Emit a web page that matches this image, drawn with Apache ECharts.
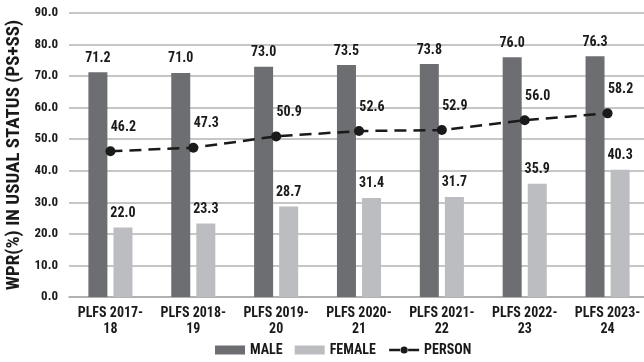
<!DOCTYPE html>
<html><head><meta charset="utf-8">
<script src="https://cdn.jsdelivr.net/npm/echarts@6/dist/echarts.min.js"></script>
<style>html,body{margin:0;padding:0;background:#fff}#c{width:644px;height:362px}</style>
</head><body><div id="c"></div>
<script>
const categories = ['PLFS 2017-\n18','PLFS 2018-\n19','PLFS 2019-\n20','PLFS 2020-\n21','PLFS 2021-\n22','PLFS 2022-\n23','PLFS 2023-\n24'];
const male = [71.2, 71.0, 73.0, 73.5, 73.8, 76.0, 76.3];
const female = [22.0, 23.3, 28.7, 31.4, 31.7, 35.9, 40.3];
const person = [46.2, 47.3, 50.9, 52.6, 52.9, 56.0, 58.2];
const FONT = "'Roboto Condensed','DejaVu Sans Condensed',sans-serif";
const lbl = {show:true, position:'top', distance:7, fontFamily:FONT, fontWeight:'bold', fontSize:14, color:'#1a1a1a', formatter: p => p.value.toFixed(1)};
const chart = echarts.init(document.getElementById('c'));
chart.setOption({
  animation:false,
  grid:{left:69, top:13, width:580, height:284, outerBoundsMode:'none'},
  legend:{bottom:0, left:210, itemWidth:30, itemHeight:9, itemGap:12,
    textStyle:{fontFamily:FONT, fontWeight:'bold', fontSize:14, color:'#1a1a1a'},
    data:[{name:'MALE', icon:'rect'},{name:'FEMALE', icon:'rect'},
      {name:'PERSON', lineStyle:{type:[11,8], width:2.5, color:'#1a1a1a'}}]},
  xAxis:{type:'category', data:categories, axisTick:{show:false},
    axisLine:{lineStyle:{color:'#aaa', width:1.5}},
    axisLabel:{fontFamily:FONT, fontWeight:'bold', fontSize:14, color:'#1a1a1a', lineHeight:16, margin:8, interval:0}},
  yAxis:{type:'value', min:0, max:90, interval:10,
    name:'WPR(%) IN USUAL STATUS (PS+SS)', nameLocation:'middle', nameGap:45, nameRotate:90,
    nameTextStyle:{fontFamily:FONT, fontWeight:'bold', fontSize:19, color:'#1a1a1a'},
    axisLabel:{fontFamily:FONT, fontWeight:'bold', fontSize:13, color:'#1a1a1a', formatter:v=>v.toFixed(1), margin:11},
    splitLine:{lineStyle:{color:'#b3b3b3', width:1.5}}},
  series:[
    {name:'MALE', type:'bar', data:male, barWidth:19, barGap:'32%', itemStyle:{color:'#6d6e71'}, label:lbl},
    {name:'FEMALE', type:'bar', data:female, barWidth:19, itemStyle:{color:'#bcbdc0'}, label:lbl},
    {name:'PERSON', type:'line', data:person, symbol:'circle', symbolSize:10,
      lineStyle:{color:'#1a1a1a', width:2.5, type:[12,7]}, itemStyle:{color:'#1a1a1a'},
      label:Object.assign({}, lbl, {offset:[13,-5]}), z:5}
  ]
});
</script></body></html>
